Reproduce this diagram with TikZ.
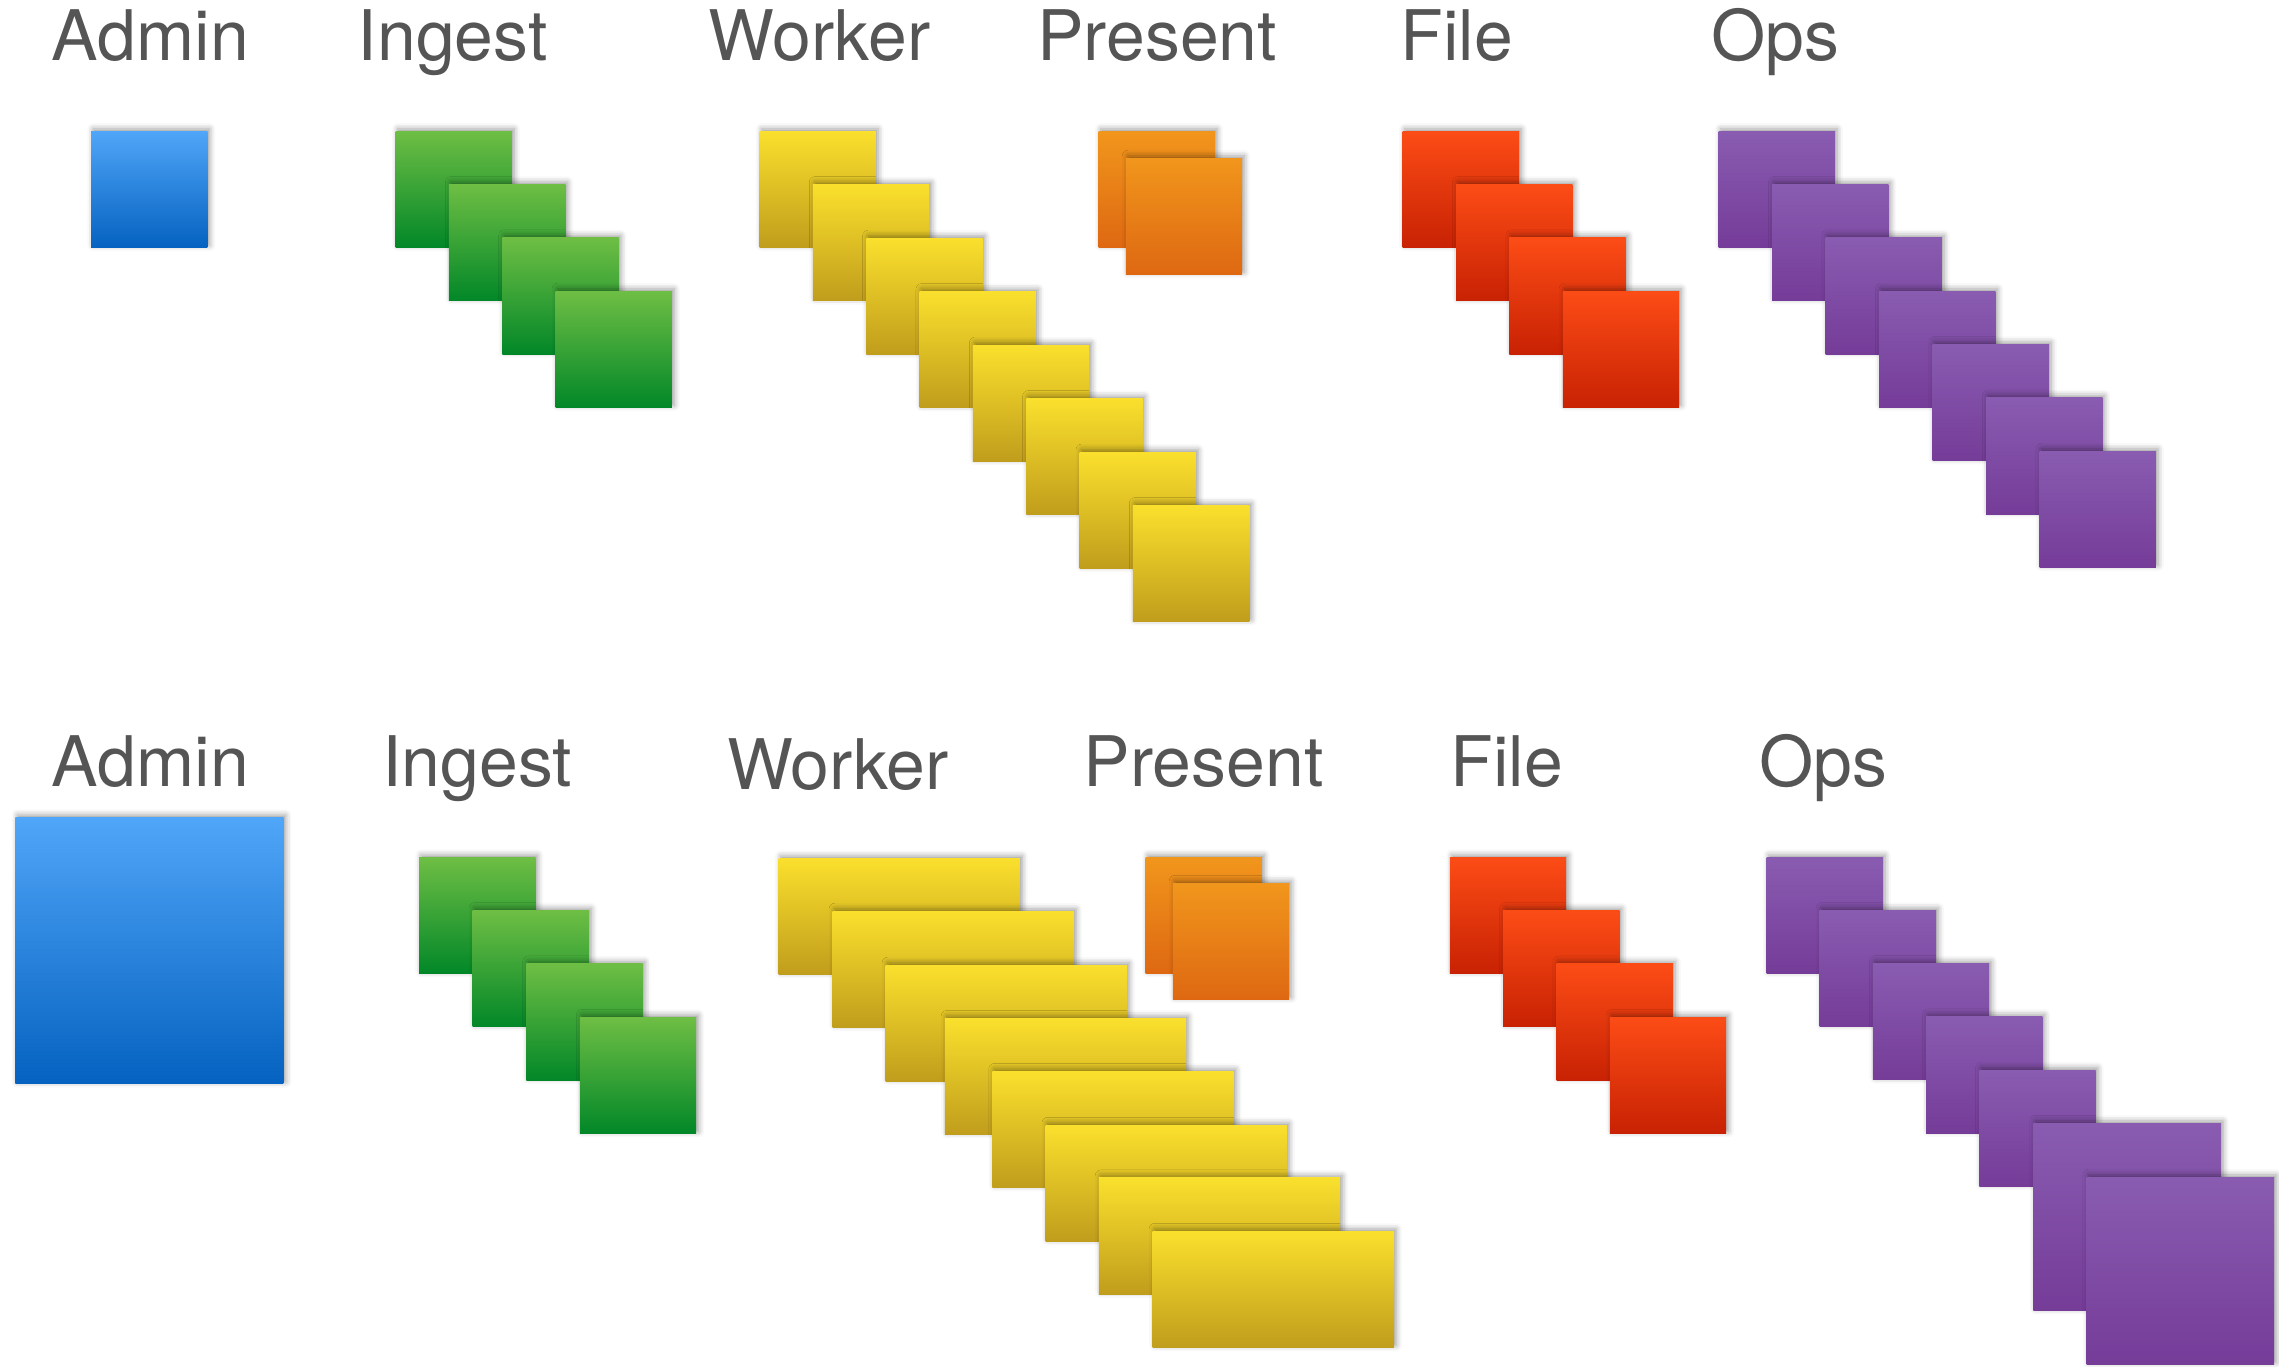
\documentclass[tikz,border=0pt]{standalone}
\usepackage{fontspec}
\setmainfont{TeX Gyre Heros}
\usetikzlibrary{shadows.blur}

\definecolor{adminTop}{RGB}{80,166,248}
\definecolor{adminBot}{RGB}{5,98,192}
\definecolor{ingestTop}{RGB}{110,190,68}
\definecolor{ingestBot}{RGB}{2,135,40}
\definecolor{workerTop}{RGB}{250,224,45}
\definecolor{workerBot}{RGB}{192,157,28}
\definecolor{presentTop}{RGB}{241,150,28}
\definecolor{presentBot}{RGB}{222,104,18}
\definecolor{fileTop}{RGB}{252,76,22}
\definecolor{fileBot}{RGB}{200,34,4}
\definecolor{opsTop}{RGB}{137,92,177}
\definecolor{opsBot}{RGB}{117,60,152}
\definecolor{labelgray}{RGB}{85,85,85}

\begin{document}
\begin{tikzpicture}[x=1pt,y=-1pt,
    box/.style={rectangle,
        inner sep=0pt,
        anchor=north west,
        minimum width=80pt,
        minimum height=80pt,
        blur shadow={shadow xshift=1.5pt,shadow yshift=1.5pt,shadow blur radius=4pt,shadow opacity=40}},
    tier/.style={anchor=base west,
        inner sep=0pt,
        text=labelgray,
        font=\fontsize{48}{56}\selectfont}]

\useasboundingbox (0,0) rectangle (1568,940);

% Top row labels
\node[tier] (adminA) at (35.5,41.5) {Admin};
\node[tier] (ingestA) at (246,41.5) {Ingest};
\node[tier] (workerA) at (487.5,41.5) {Worker};
\node[tier] (presentA) at (713.5,41.5) {Present};
\node[tier] (fileA) at (963.5,41.5) {File};
\node[tier] (opsA) at (1177,41.5) {Ops};

% Top row instances
\node[box,top color=adminTop,bottom color=adminBot] (adminA1) at (62.5,90) {};
\foreach \i in {1,...,4}
    \node[box,top color=ingestTop,bottom color=ingestBot] (ingestA\i) at ({272+36.7*(\i-1)},{90+36.7*(\i-1)}) {};
\foreach \i in {1,...,8}
    \node[box,top color=workerTop,bottom color=workerBot] (workerA\i) at ({522.4+36.7*(\i-1)},{90+36.8*(\i-1)}) {};
\node[box,top color=presentTop,bottom color=presentBot] (presentA1) at (755.7,90) {};
\node[box,top color=presentTop,bottom color=presentBot] (presentA2) at (774.4,108.6) {};
\foreach \i in {1,...,4}
    \node[box,top color=fileTop,bottom color=fileBot] (fileA\i) at ({964.9+36.7*(\i-1)},{90+36.7*(\i-1)}) {};
\foreach \i in {1,...,7}
    \node[box,top color=opsTop,bottom color=opsBot] (opsA\i) at ({1182.2+36.8*(\i-1)},{90+36.7*(\i-1)}) {};

% Bottom row labels
\node[tier] (adminB) at (35.5,541) {Admin};
\node[tier] (ingestB) at (263,541) {Ingest};
\node[tier] (workerB) at (500,543) {Worker};
\node[tier] (presentB) at (745.5,541) {Present};
\node[tier] (fileB) at (998,541) {File};
\node[tier] (opsB) at (1210.5,541) {Ops};

% Bottom row instances
\node[box,top color=adminTop,bottom color=adminBot,
    minimum width=184.5pt,
    minimum height=183.5pt] (adminB1) at (10.3,562.1) {};
\foreach \i in {1,...,4}
    \node[box,top color=ingestTop,bottom color=ingestBot] (ingestB\i) at ({288.1+36.9*(\i-1)},{589.6+36.7*(\i-1)}) {};
\foreach \x/\y [count=\i] in {535.5/590.3,572.7/626.7,609.2/663.8,649.8/700.5,682.6/736.9,719.2/774,755.8/810.2,792.9/846.9}
    \node[box,top color=workerTop,bottom color=workerBot,
        minimum width=166pt] (workerB\i) at (\x,\y) {};
\node[box,top color=presentTop,bottom color=presentBot] (presentB1) at (788,589.6) {};
\node[box,top color=presentTop,bottom color=presentBot] (presentB2) at (806.7,607.5) {};
\foreach \i in {1,...,4}
    \node[box,top color=fileTop,bottom color=fileBot] (fileB\i) at ({997.3+36.7*(\i-1)},{589.6+36.7*(\i-1)}) {};
\foreach \i in {1,...,5}
    \node[box,top color=opsTop,bottom color=opsBot] (opsB\i) at ({1215.2+36.6*(\i-1)},{589.6+36.6*(\i-1)}) {};
% larger Ops instances
\node[box,top color=opsTop,bottom color=opsBot,
    minimum width=129pt,
    minimum height=129pt] (opsB6) at (1398.8,772.6) {};
\node[box,top color=opsTop,bottom color=opsBot,
    minimum width=129pt,
    minimum height=129pt] (opsB7) at (1435.4,809.7) {};

\end{tikzpicture}
\end{document}
